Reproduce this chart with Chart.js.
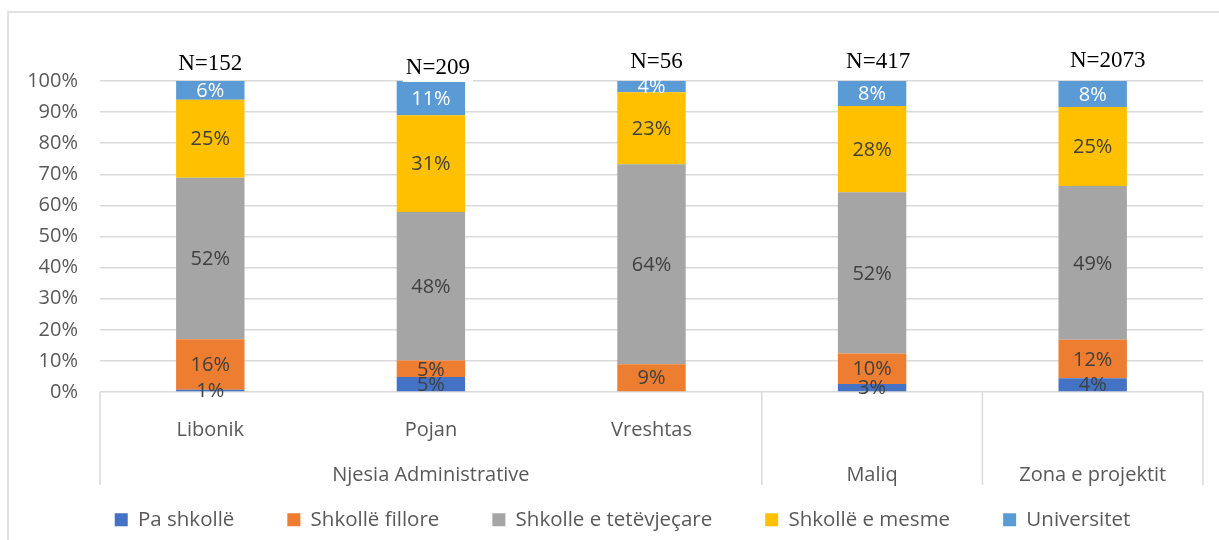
<!DOCTYPE html>
<html><head><meta charset="utf-8">
<script src="https://cdn.jsdelivr.net/npm/chart.js@4.4.0/dist/chart.umd.min.js"></script>
<style>html,body{margin:0;padding:0;background:#fff;}#wrap{width:1219px;height:540px;position:relative;}</style>
</head><body><div id="wrap"><canvas id="c"></canvas></div>
<script>
// ---- data ----
const subLabels = ['Libonik', 'Pojan', 'Vreshtas', '', ''];
const groupLabels = ['Njesia Administrative', 'Njesia Administrative', 'Njesia Administrative', 'Maliq', 'Zona e projektit'];
const seriesNames = ['Pa shkollë', 'Shkollë fillore', 'Shkolle e tetëvjeçare', 'Shkollë e mesme', 'Universitet'];
const paShkolle   = [0.7, 4.8, 0, 2.6, 4.4];
const fillore     = [16.3, 5.3, 8.9, 9.8, 12.4];
const tetevjecare = [51.9, 47.8, 64.3, 51.8, 49.4];
const mesme       = [25.1, 31.1, 23.2, 27.8, 25.4];
const universitet = [6.0, 11.0, 3.6, 8.0, 8.4];
const sampleSizes = ['N=152', 'N=209', 'N=56', 'N=417', 'N=2073'];
const yTickValues = [0, 10, 20, 30, 40, 50, 60, 70, 80, 90, 100];

// ---- build two-level labels ----
const runs = [];
groupLabels.forEach((g, i) => {
  if (i === 0 || g !== groupLabels[i - 1]) runs.push({ name: g, start: i, end: i });
  else runs[runs.length - 1].end = i;
});
const labels = subLabels.map((s, i) => {
  const r = runs.find(r => i >= r.start && i <= r.end);
  const mid = Math.floor((r.start + r.end) / 2);
  return [s, i === mid ? r.name : ''];
});

const colors = ['#4472C4', '#ED7D31', '#A5A5A5', '#FFC000', '#5B9BD5'];
const labelColors = ['#404040', '#404040', '#404040', '#404040', '#FFFFFF'];
const seriesData = [paShkolle, fillore, tetevjecare, mesme, universitet];

const FONT = "'Open Sans', 'DejaVu Sans', sans-serif";
Chart.defaults.font.family = FONT;
Chart.defaults.color = '#595959';

// scales whose tick labels are not clipped to the axis box
class NoClipCategory extends Chart.CategoryScale {
  _computeLabelArea() { return undefined; }
}
NoClipCategory.id = 'noClipCategory';
NoClipCategory.defaults = Chart.CategoryScale.defaults;
class NoClipLinear extends Chart.LinearScale {
  _computeLabelArea() { return undefined; }
}
NoClipLinear.id = 'noClipLinear';
NoClipLinear.defaults = Chart.LinearScale.defaults;
Chart.register(NoClipCategory, NoClipLinear);

const frame = {
  id: 'frame',
  beforeDraw(chart) {
    const c = chart.ctx;
    c.save();
    c.fillStyle = '#fff';
    c.fillRect(0, 0, chart.width, chart.height);
    c.strokeStyle = '#d9d9d9';
    c.lineWidth = 1.5;
    c.strokeRect(8, 12, chart.width + 10, chart.height + 10);
    c.restore();
  }
};

const axisBox = {
  id: 'axisBox',
  afterDraw(chart) {
    const xs = chart.scales.x;
    const c = chart.ctx;
    const top = xs.top;
    const bottom = xs.top + 93;
    const half = (xs.getPixelForValue(1) - xs.getPixelForValue(0)) / 2;
    const xsPos = [xs.left];
    runs.forEach(r => { xsPos.push(xs.getPixelForValue(r.end) + half); });
    c.save();
    c.strokeStyle = '#d9d9d9';
    c.lineWidth = 1.5;
    xsPos.forEach(px => {
      c.beginPath();
      c.moveTo(px, top);
      c.lineTo(px, bottom);
      c.stroke();
    });
    c.restore();
  }
};

const valueLabels = {
  id: 'valueLabels',
  afterDatasetsDraw(chart) {
    const c = chart.ctx;
    c.save();
    c.font = '20px ' + FONT;
    c.textAlign = 'center';
    c.textBaseline = 'middle';
    chart.data.datasets.forEach((ds, di) => {
      const meta = chart.getDatasetMeta(di);
      meta.data.forEach((el, i) => {
        const v = ds.data[i];
        if (!v) return;
        const p = el.getProps(['x', 'y', 'base'], true);
        c.fillStyle = labelColors[di];
        c.fillText(Math.round(v) + '%', p.x, (p.y + p.base) / 2 + 1);
      });
    });
    c.restore();
  }
};

const nLabels = {
  id: 'nLabels',
  afterDraw(chart, args, opts) {
    const c = chart.ctx;
    const xs = chart.scales.x;
    const top = chart.chartArea.top;
    c.save();
    c.font = '23px "Liberation Serif", "Times New Roman", serif';
    c.textAlign = 'center';
    c.textBaseline = 'middle';
    sampleSizes.forEach((t, i) => {
      const x = xs.getPixelForValue(i) + opts.dx[i];
      const y = top - opts.dy[i];
      const w = c.measureText(t).width;
      c.fillStyle = '#fff';
      c.fillRect(x - w / 2 - 3, y - 13, w + 6, 28);
      c.fillStyle = '#000';
      c.fillText(t, x, y + 1);
    });
    c.restore();
  }
};

new Chart(document.getElementById('c'), {
  type: 'bar',
  data: {
    labels: labels,
    datasets: seriesNames.map((n, i) => ({
      label: n,
      data: seriesData[i],
      backgroundColor: colors[i],
      borderWidth: 0,
      categoryPercentage: 1,
      barPercentage: 0.31
    }))
  },
  options: {
    responsive: true,
    maintainAspectRatio: false,
    animation: false,
    devicePixelRatio: 1,
    layout: { padding: { left: 42, right: 16, top: 81, bottom: 0 } },
    plugins: {
      legend: {
        position: 'bottom',
        labels: {
          boxWidth: 13, boxHeight: 13, padding: 53,
          color: '#595959',
          font: { size: 20.5 }
        }
      },
      tooltip: { enabled: false },
      nLabels: { dx: [0, 7, 5, 6, 15], dy: [18, 14, 20, 20, 21] }
    },
    scales: {
      x: {
        type: 'noClipCategory',
        stacked: true,
        grid: { display: false },
        border: { display: false },
        ticks: {
          autoSkip: false, maxRotation: 0, minRotation: 0,
          padding: 8,
          color: '#595959',
          font: { size: 20, lineHeight: 2.25 }
        },
        afterFit(s) { s.height = 64.5; }
      },
      y: {
        type: 'noClipLinear',
        stacked: true,
        min: 0, max: 100,
        afterBuildTicks(s) { s.ticks = yTickValues.map(v => ({ value: v })); },
        grid: { color: '#d9d9d9', lineWidth: 1.5, drawTicks: false },
        border: { display: false },
        ticks: {
          padding: 22,
          color: '#595959',
          font: { size: 20 },
          callback: v => v + '%'
        },
        afterFit(s) { s.width = 58; }
      }
    }
  },
  plugins: [frame, axisBox, valueLabels, nLabels]
});
</script>
</body></html>
